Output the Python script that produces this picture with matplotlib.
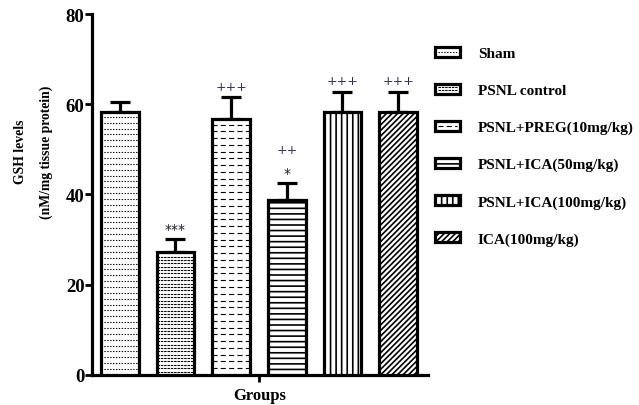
import numpy as np
import matplotlib
matplotlib.use("Agg")
import matplotlib.pyplot as plt
from matplotlib.patches import Rectangle
from matplotlib.lines import Line2D
from matplotlib.legend_handler import HandlerBase

plt.rcParams['font.family'] = ['Liberation Serif', 'DejaVu Serif']
plt.rcParams['hatch.linewidth'] = 1.2

# data
groups = ['Sham', 'PSNL control', 'PSNL+PREG(10mg/kg)', 'PSNL+ICA(50mg/kg)',
          'PSNL+ICA(100mg/kg)', 'ICA(100mg/kg)']
gsh_mean = [58.3, 27.3, 56.7, 38.8, 58.2, 58.2]
gsh_sem = [2.1, 2.8, 4.8, 3.8, 4.6, 4.6]
star_labels = ['', '***', '', '*', '', '']
plus_labels = ['', '', '+++', '++', '+++', '+++']

# fill styles: (kind, spacing in data units / hatch, dash pattern)
fills = [
    ('dash', 1.3, (1.2, 1.4)),
    ('dash', 0.75, (2.2, 0.8)),
    ('dash', 1.5, (4.5, 3.0)),
    ('hatch', '---', None),
    ('hatch', '|||', None),
    ('hatch', '//////', None),
]

fig = plt.figure(figsize=(6.39, 4.06), dpi=100)
ax = fig.add_axes([0.144, 0.074, 0.526, 0.889])

x = np.arange(len(groups))
width = 0.68
bars = []
for i in range(len(groups)):
    kind, spec, dash = fills[i]
    b = ax.bar(x[i], gsh_mean[i], width, color='white', edgecolor='black',
               linewidth=2.3, hatch=spec if kind == 'hatch' else None, zorder=3)[0]
    bars.append(b)
    if kind == 'dash':
        ys = np.arange(spec, gsh_mean[i], spec)
        ln = ax.hlines(ys, x[i] - width / 2, x[i] + width / 2, colors='black',
                       linewidth=0.8, linestyles=[(0, dash)], zorder=3)
        ln.set_clip_path(b)
    ax.errorbar(x[i], gsh_mean[i], yerr=[[0], [gsh_sem[i]]], fmt='none',
                ecolor='black', elinewidth=2.3, capsize=7.5, capthick=2.3, zorder=2)
    top = gsh_mean[i] + gsh_sem[i]
    if star_labels[i]:
        ax.annotate(star_labels[i], (x[i], top), xytext=(0, 7), textcoords='offset points',
                    ha='center', va='center', fontsize=10, color='#1a1a2e',
                    family='DejaVu Sans')
    if plus_labels[i]:
        off = 24 if star_labels[i] else 8
        ax.annotate(plus_labels[i], (x[i], top), xytext=(0, off), textcoords='offset points',
                    ha='center', va='center', fontsize=9, color='#2e3063',
                    family='DejaVu Sans')

ax.set_xlim(-0.5, 5.54)
ax.set_ylim(0, 80)
ax.set_yticks([0, 20, 40, 60, 80])
ax.set_xticks([2.5])
ax.set_xticklabels([''])
for s in ['top', 'right']:
    ax.spines[s].set_visible(False)
for s in ['left', 'bottom']:
    ax.spines[s].set_linewidth(2.3)
ax.tick_params(axis='both', width=2, length=5)
ax.tick_params(axis='y', labelsize=13.5, pad=0.5)
for t in ax.get_yticklabels():
    t.set_fontweight('bold')
ax.set_ylabel('GSH levels\n(nM/mg tissue protein)', fontsize=9.8, fontweight='bold',
              linespacing=2.2)
ax.yaxis.set_label_coords(-0.116, 0.62)
ax.set_xlabel('Groups', fontsize=12, fontweight='bold', labelpad=0)


class HandlerFill(HandlerBase):
    def create_artists(self, legend, orig_handle, xdescent, ydescent, width, height,
                       fontsize, trans):
        kind, spec, dash = orig_handle.fill_style
        rect = Rectangle((-xdescent, -ydescent), width, height, facecolor='white',
                         edgecolor='black', linewidth=2.3,
                         hatch=spec if kind == 'hatch' else None, transform=trans)
        arts = [rect]
        if kind == 'dash':
            n = 2 if spec < 1 else 1
            for k in range(n):
                yy = -ydescent + height * (k + 1) / (n + 1)
                arts.append(Line2D([-xdescent + 2, -xdescent + width - 2], [yy, yy],
                                   color='black', linewidth=0.8, linestyle=(0, dash),
                                   transform=trans))
        return arts


for b, f in zip(bars, fills):
    b.fill_style = f

leg = ax.legend(bars, groups, loc='upper left',
                frameon=False, prop={'weight': 'bold', 'size': 11},
                handlelength=1.65, handleheight=0.6, handletextpad=1.15,
                labelspacing=1.55, borderaxespad=0.0, borderpad=0.0,
                handler_map={type(bars[0]): HandlerFill()})
leg.set_bbox_to_anchor((435 / 639, 0.882), transform=fig.transFigure)

fig.savefig('out.png', dpi=100)
